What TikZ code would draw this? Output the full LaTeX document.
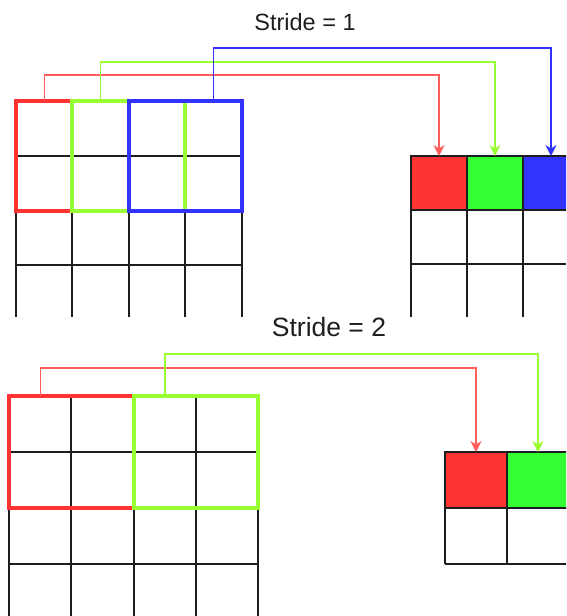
\documentclass[tikz,border=0pt]{standalone}
\usepackage{fontspec}
\setmainfont{Liberation Sans}
\usetikzlibrary{arrows.meta,calc}

\definecolor{winred}{HTML}{FF3333}
\definecolor{wingreen}{HTML}{99FF33}
\definecolor{winblue}{HTML}{3333FF}
\definecolor{cellgreen}{HTML}{33FF33}
\definecolor{linkred}{HTML}{FF5C5C}
\definecolor{gridgray}{HTML}{1E1E1E}

\tikzset{
  gridline/.style={draw=gridgray, line width=1.4pt},
  win/.style={draw, line width=3.6pt, inner sep=0pt, outer sep=0pt, anchor=north west},
  outcell/.style={draw=gridgray, line width=1.4pt, inner sep=0pt, outer sep=0pt, anchor=north west},
  link/.style={line width=1.1pt, -{Stealth[length=11pt,width=11pt,inset=3.5pt]}},
  title/.style={text=gridgray},
}

\begin{document}
\begin{tikzpicture}[x=1pt,y=-1pt]
\useasboundingbox (0,0) rectangle (566,616);
\clip (0,0) rectangle (566,616);

% stride 1
\node[title,font=\fontsize{23.5}{28}\selectfont] (title1) at (305,22) {Stride = 1};

\foreach \x in {16,72,129,185,242}
  \draw[gridline] (\x,101) -- (\x,317);
\foreach \y in {156,211,265}
  \draw[gridline] (16,\y) -- (242,\y);

\foreach \x in {411,467,523}
  \draw[gridline] (\x,156) -- (\x,317);
\foreach \y in {210,264}
  \draw[gridline] (411,\y) -- (566,\y);

\node[win,draw=winred,minimum width=113,minimum height=110] (winA) at (16,101) {};
\node[win,draw=wingreen,minimum width=113,minimum height=110] (winB) at (72,101) {};
\node[win,draw=winblue,minimum width=113,minimum height=110] (winC) at (129,101) {};

\node[outcell,fill=winred,minimum width=56,minimum height=54] (outA) at (411,156) {};
\node[outcell,fill=cellgreen,minimum width=56,minimum height=54] (outB) at (467,156) {};
\node[outcell,fill=winblue,minimum width=56,minimum height=54] (outC) at (523,156) {};

\coordinate (srcA) at ($(winA.north west)!0.25!(winA.north east)$);
\coordinate (srcB) at ($(winB.north west)!0.25!(winB.north east)$);
\coordinate (srcC) at ($(winC.north west)!0.75!(winC.north east)$);

\draw[link,linkred] (srcA) -- (srcA |- 0,75) -- (outA.north |- 0,75) -- (outA.north);
\draw[link,wingreen] (srcB) -- (srcB |- 0,62) -- (outB.north |- 0,62) -- (outB.north);
\draw[link,winblue] (srcC) -- (srcC |- 0,48) -- (outC.north |- 0,48) -- (outC.north);

% stride 2
\node[title,font=\fontsize{26.5}{31}\selectfont] (title2) at (329,327) {Stride = 2};

\foreach \x in {9,71,134,196,258}
  \draw[gridline] (\x,396) -- (\x,616);
\foreach \y in {452,508,564}
  \draw[gridline] (9,\y) -- (258,\y);

\foreach \x in {445,507,569}
  \draw[gridline] (\x,452) -- (\x,564);
\foreach \y in {508,564}
  \draw[gridline] (445,\y) -- (570,\y);

\node[win,draw=winred,minimum width=125,minimum height=112] (winD) at (9,396) {};
\node[win,draw=wingreen,minimum width=124,minimum height=112] (winE) at (134,396) {};

\node[outcell,fill=winred,minimum width=62,minimum height=56] (outD) at (445,452) {};
\node[outcell,fill=cellgreen,minimum width=62,minimum height=56] (outE) at (507,452) {};

\coordinate (srcD) at ($(winD.north west)!0.25!(winD.north east)$);
\coordinate (srcE) at ($(winE.north west)!0.25!(winE.north east)$);

\draw[link,linkred] (srcD) -- (srcD |- 0,368) -- (outD.north |- 0,368) -- (outD.north);
\draw[link,wingreen] (srcE) -- (srcE |- 0,354) -- (outE.north |- 0,354) -- (outE.north);

\end{tikzpicture}
\end{document}
